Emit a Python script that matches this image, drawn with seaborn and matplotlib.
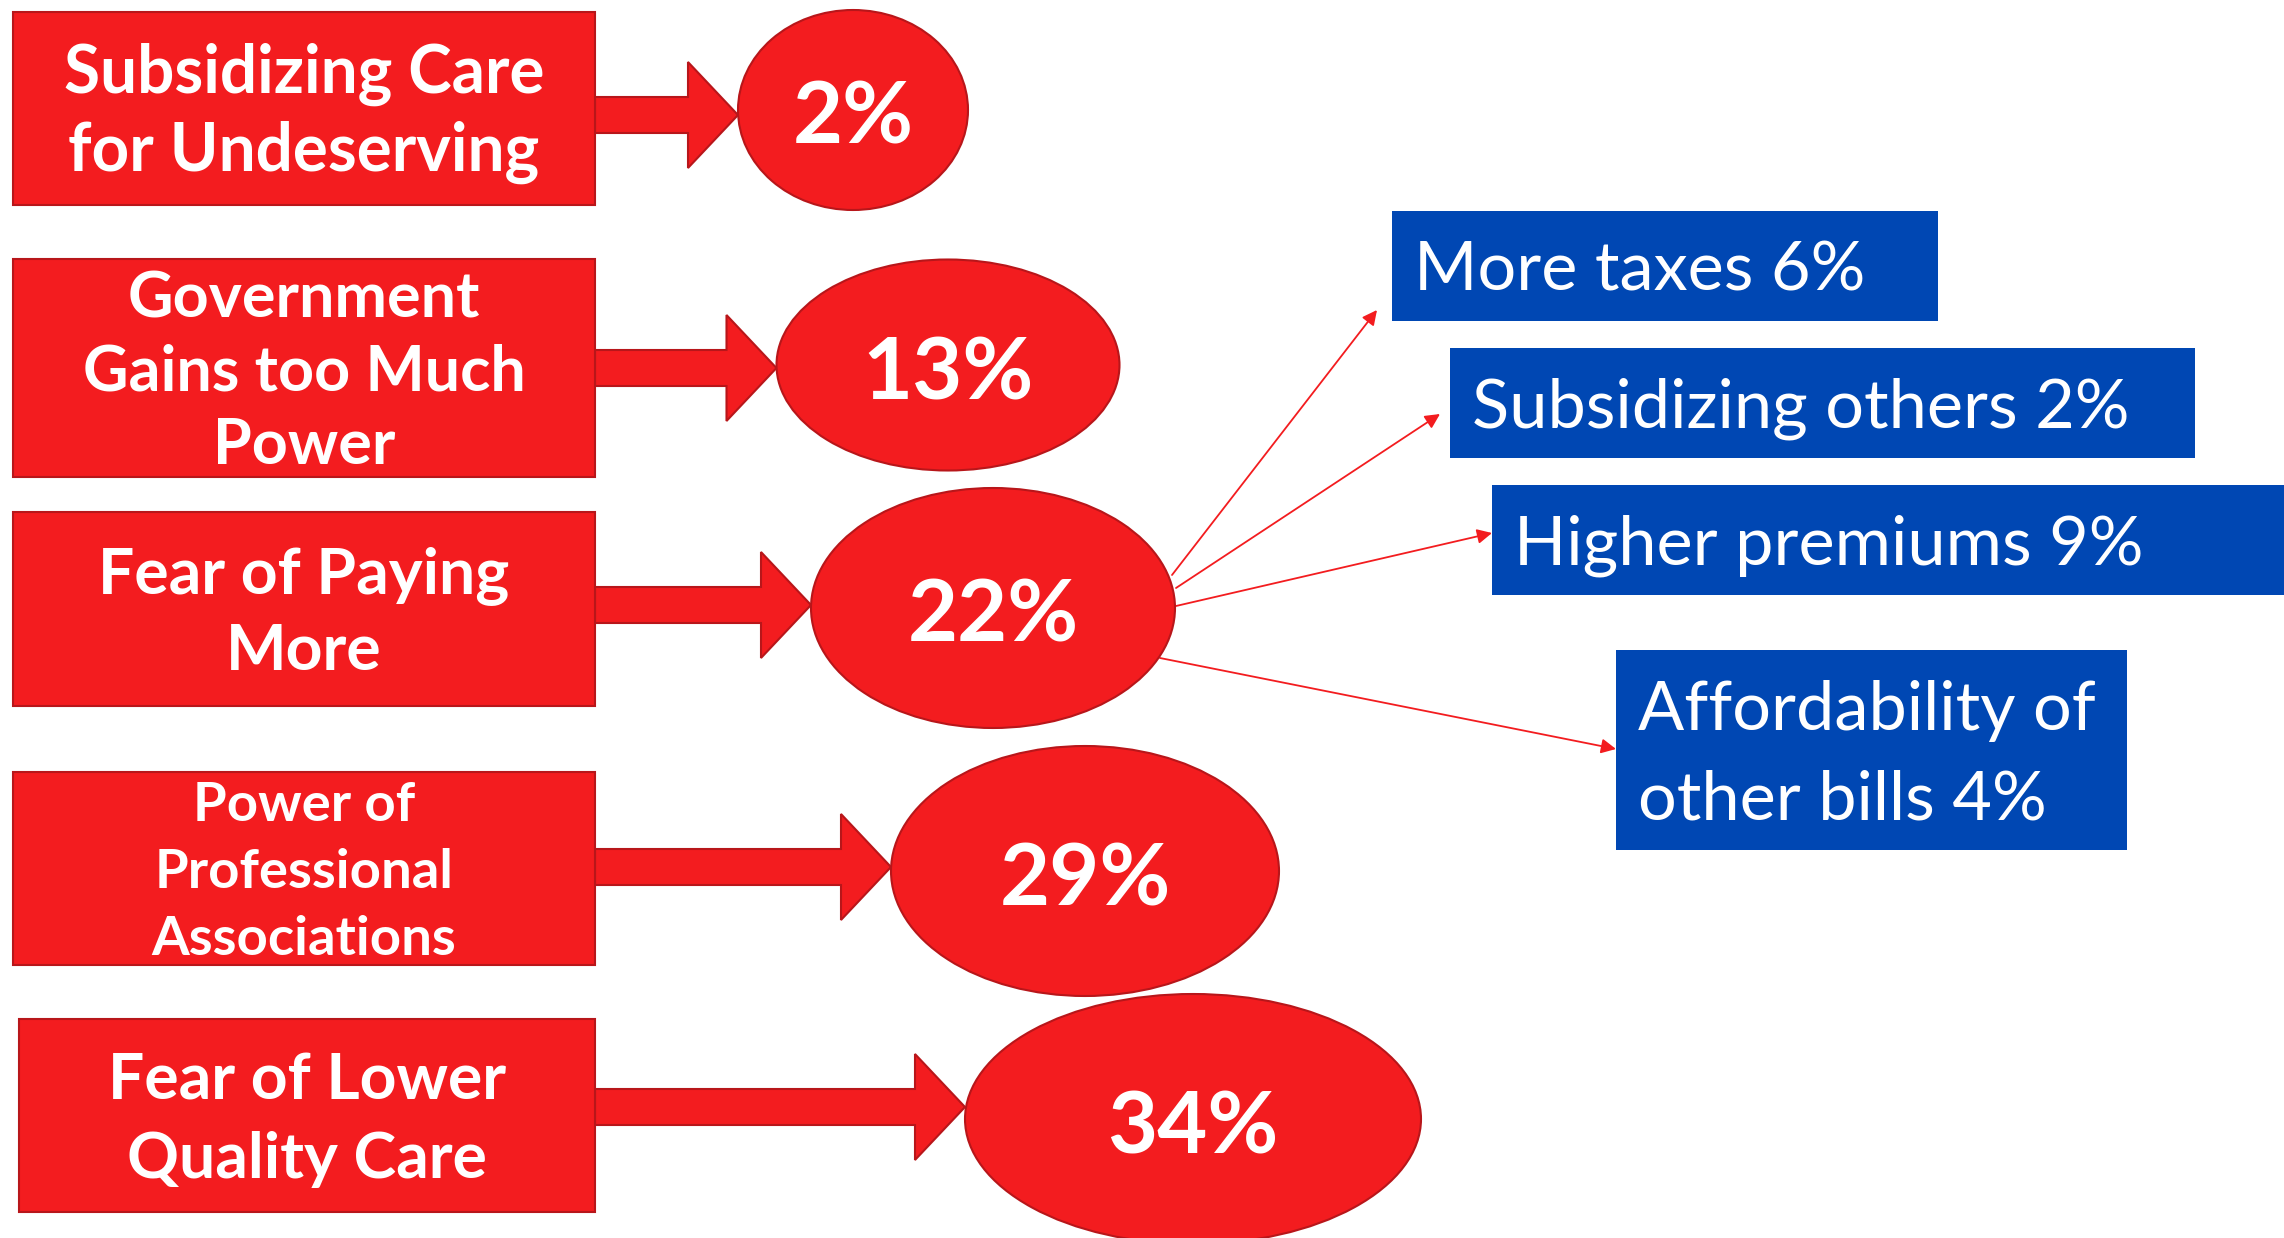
import numpy as np
import matplotlib
matplotlib.use("Agg")
import matplotlib.pyplot as plt
import seaborn as sns
from matplotlib.patches import Rectangle, Ellipse, Polygon

# ---------------- data ----------------
reasons = ["Subsidizing Care\nfor Undeserving",
           "Government\nGains too Much\nPower",
           "Fear of Paying\nMore",
           "Power of\nProfessional\nAssociations",
           "Fear of Lower\nQuality Care"]
reason_pct = [2, 13, 22, 29, 34]

cost_labels = ["More taxes", "Subsidizing others", "Higher premiums",
               "Affordability of\nother bills"]
cost_pct = [6, 2, 9, 4]

# ---------------- layout (pixels, y down) ----------------
W, H = 2284, 1238
box_x0 = [13, 13, 13, 13, 19]
box_x1 = [595, 595, 595, 595, 595]
box_y0 = [12, 259, 512, 772, 1019]
box_y1 = [205, 477, 706, 965, 1212]
box_cap = [47, 45, 46, 39, 46]
box_lsp = [78, 73, 77, 67, 78]

ell_cx = [853, 948, 993, 1085, 1193]
ell_cy = [110, 365, 608, 871, 1119]
ell_w = [230, 343, 364, 388, 456]
ell_h = [200, 211, 240, 250, 250]
arrow_y = [115, 368, 605, 867, 1107]

blue_x0 = [1392, 1450, 1492, 1616]
blue_x1 = [1938, 2195, 2300, 2127]
blue_y0 = [211, 348, 485, 650]
blue_y1 = [321, 458, 595, 850]
line_start = [(1172, 575), (1176, 588), (1176, 606), (1160, 658)]
line_end = [(1377, 310), (1440, 414), (1492, 533), (1616, 749)]

RED = '#f31c1f'
RED_EDGE = '#b8161a'
BLUE = '#0047b3'

sns.set_theme(style="white")
plt.rcParams['font.family'] = ['Lato', 'DejaVu Sans']

DPI = 100
CAP = 0.7165  # Lato cap height / em


def cap_to_pt(cap_px):
    return cap_px / CAP * 72 / DPI


def put_lines(ax, text, x, yc, cap, lsp, ha, weight):
    lines = text.split("\n")
    n = len(lines)
    first = yc - (n - 1) * lsp / 2 + cap / 2
    for i, ln in enumerate(lines):
        ax.text(x, first + i * lsp, ln, ha=ha, va='baseline', color='white',
                fontsize=cap_to_pt(cap), fontweight=weight)


fig = plt.figure(figsize=(W / DPI, H / DPI), dpi=DPI)
ax = fig.add_axes([0, 0, 1, 1])
ax.set_xlim(0, W)
ax.set_ylim(H, 0)
ax.axis('off')

# red reason boxes, block arrows, ellipses
for i in range(len(reasons)):
    ax.add_patch(Rectangle((box_x0[i], box_y0[i]), box_x1[i] - box_x0[i],
                           box_y1[i] - box_y0[i], facecolor=RED,
                           edgecolor=RED_EDGE, lw=1.5, zorder=2))
    put_lines(ax, reasons[i], (box_x0[i] + box_x1[i]) / 2,
              (box_y0[i] + box_y1[i]) / 2, box_cap[i], box_lsp[i],
              'center', 'bold')

    tip = ell_cx[i] - ell_w[i] / 2
    base = tip - 50
    yc = arrow_y[i]
    pts = [(box_x1[i], yc - 18), (base, yc - 18), (base, yc - 53), (tip, yc),
           (base, yc + 53), (base, yc + 18), (box_x1[i], yc + 18)]
    ax.add_patch(Polygon(pts, closed=True, facecolor=RED,
                         edgecolor=RED_EDGE, lw=1.5, zorder=1))

    ax.add_patch(Ellipse((ell_cx[i], ell_cy[i]), ell_w[i], ell_h[i],
                         facecolor=RED, edgecolor=RED_EDGE, lw=1.5, zorder=2))
    ax.text(ell_cx[i], ell_cy[i] + 64 / 2 + 2, f"{reason_pct[i]}%", ha='center',
            va='baseline', color='white', fontsize=cap_to_pt(62),
            fontweight='bold', zorder=3)

# blue cost boxes with thin arrows from the 22% ellipse
for j in range(len(cost_labels)):
    ax.add_patch(Rectangle((blue_x0[j], blue_y0[j]), blue_x1[j] - blue_x0[j],
                           blue_y1[j] - blue_y0[j], facecolor=BLUE,
                           edgecolor='none', zorder=2))
    put_lines(ax, f"{cost_labels[j]} {cost_pct[j]}%", blue_x0[j] + 22,
              (blue_y0[j] + blue_y1[j]) / 2, 49, 90, 'left', 'normal')
    ax.annotate("", xy=line_end[j], xytext=line_start[j],
                arrowprops=dict(arrowstyle='-|>', color=RED, lw=1.3,
                                mutation_scale=22, shrinkA=0, shrinkB=0),
                zorder=1)

fig.savefig("out.png", dpi=DPI)
